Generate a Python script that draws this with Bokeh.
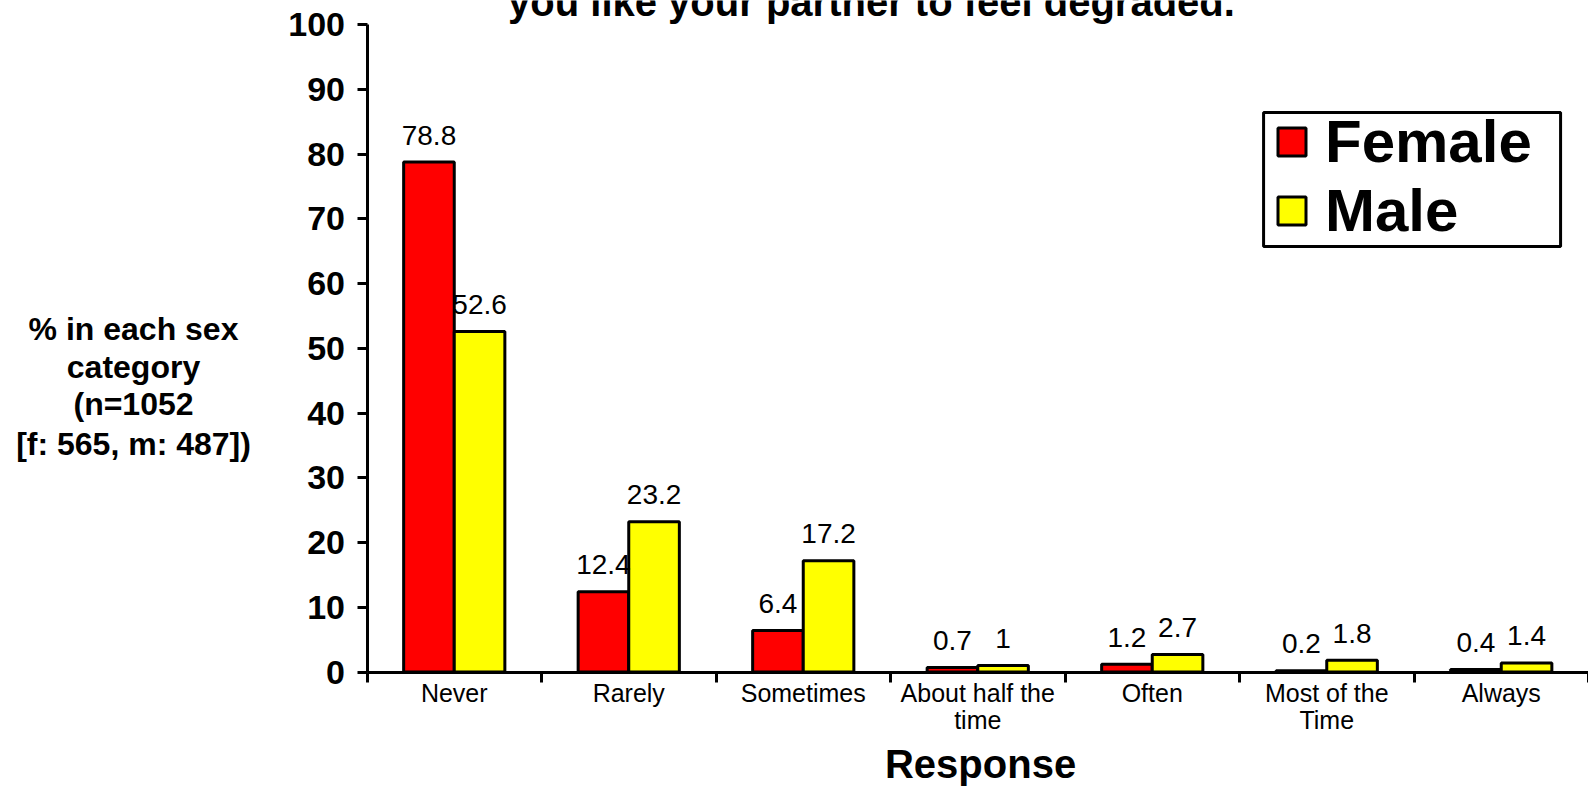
from bokeh.plotting import figure
from bokeh.models import (ColumnDataSource, Range1d, FixedTicker, Label, Legend, LegendItem,
                          BoxAnnotation)
from bokeh.transform import dodge
from bokeh.core.properties import value
from bokeh.embed import file_html
from bokeh.resources import INLINE

categories = ["Never", "Rarely", "Sometimes", "About half the\ntime", "Often", "Most of the\nTime", "Always"]
female = [78.8, 12.4, 6.4, 0.7, 1.2, 0.2, 0.4]
male = [52.6, 23.2, 17.2, 1, 2.7, 1.8, 1.4]
y_ticks = [0, 10, 20, 30, 40, 50, 60, 70, 80, 90, 100]
title_text = "you like your partner to feel degraded."
x_title = "Response"
y_title_lines = ["% in each sex", "category", "(n=1052", "[f: 565, m: 487])"]

FONT = "Liberation Sans"
N = len(categories)

centers = [i + 0.5 for i in range(N)]
src = ColumnDataSource(dict(
    x=centers,
    female=female,
    male=male,
    female_lbl=[f"{v:g}" for v in female],
    male_lbl=[f"{v:g}" for v in male],
))

# the frame covers the whole canvas; axes are pinned inside it
p = figure(width=1588, height=787, output_backend="svg", toolbar_location=None,
           x_range=Range1d(-2.1003, 7.0), y_range=Range1d(-17.846, 103.755),
           min_border_left=0, min_border_right=0, min_border_top=0, min_border_bottom=0)
p.outline_line_color = None
p.xgrid.grid_line_color = None
p.ygrid.grid_line_color = None
p.background_fill_color = "white"
p.border_fill_color = "white"

BW = 0.29
rf = p.vbar(x=dodge("x", -0.145, range=p.x_range), top="female", width=BW, source=src,
            fill_color="#FF0000", line_color="black", line_width=3)
rm = p.vbar(x=dodge("x", 0.145, range=p.x_range), top="male", width=BW, source=src,
            fill_color="#FFFF00", line_color="black", line_width=3)

p.text(x=dodge("x", -0.145, range=p.x_range), y="female", text="female_lbl", source=src,
       text_font=value(FONT), text_font_size="28px", text_align="center",
       text_baseline="alphabetic", y_offset=-27, text_color="black")
p.text(x=dodge("x", 0.145, range=p.x_range), y="male", text="male_lbl", source=src,
       text_font=value(FONT), text_font_size="28px", text_align="center",
       text_baseline="alphabetic", y_offset=-27, text_color="black")

# axes
xa = p.xaxis[0]
xa.fixed_location = 0
xa.bounds = (0, N)
xa.ticker = FixedTicker(ticks=centers, minor_ticks=list(range(N + 1)))
xa.major_label_overrides = {c: lab for c, lab in zip(centers, categories)}
xa.major_tick_out = 0
xa.major_tick_in = 0
xa.minor_tick_out = 10
xa.minor_tick_in = 0
xa.minor_tick_line_width = 3
xa.minor_tick_line_color = "black"
xa.axis_line_width = 3
xa.axis_line_color = "black"
xa.major_label_text_font = FONT
xa.major_label_text_font_size = "25px"
xa.major_label_text_line_height = 0.95
xa.major_label_text_color = "black"
xa.major_label_standoff = -3

ya = p.yaxis[0]
ya.fixed_location = 0
ya.bounds = (0, 100)
ya.ticker = FixedTicker(ticks=y_ticks)
ya.major_tick_out = 10
ya.major_tick_in = 0
ya.major_tick_line_width = 3
ya.minor_tick_line_color = None
ya.axis_line_width = 3
ya.axis_line_color = "black"
ya.major_label_text_font = FONT
ya.major_label_text_font_size = "34px"
ya.major_label_text_font_style = "bold"
ya.major_label_text_color = "black"
ya.major_label_standoff = 12

# texts
p.add_layout(Label(x=2.891, y=103.55, text=title_text,
                   text_font=FONT, text_font_size="40px", text_font_style="bold",
                   text_align="center", text_baseline="alphabetic", text_color="black"))
p.add_layout(Label(x=3.516, y=-14.23, text=x_title,
                   text_font=FONT, text_font_size="40px", text_font_style="bold",
                   text_align="center", text_baseline="alphabetic", text_color="black"))
for line, yy in zip(y_title_lines, [52.99, 47.20, 41.41, 35.30]):
    p.add_layout(Label(x=-1.338, y=yy, text=line,
                       text_font=FONT, text_font_size="32px", text_font_style="bold",
                       text_align="center", text_baseline="alphabetic", text_color="black"))

# legend frame
p.add_layout(BoxAnnotation(left=5.138, right=6.840, top=86.45, bottom=65.74,
                           fill_color="white", fill_alpha=1.0,
                           line_color="black", line_width=3, line_alpha=1.0))

legend = Legend(items=[LegendItem(label="Female", renderers=[rf]),
                       LegendItem(label="Male", renderers=[rm])],
                location=(1274, 542), orientation="vertical",
                label_text_font=FONT, label_text_font_size="60px", label_text_font_style="bold",
                label_text_color="black",
                glyph_width=35, glyph_height=35, label_standoff=16,
                padding=0, spacing=0, margin=0,
                border_line_color=None, background_fill_alpha=0.0)
p.add_layout(legend)

open("out.html", "w").write(file_html(p, INLINE))
